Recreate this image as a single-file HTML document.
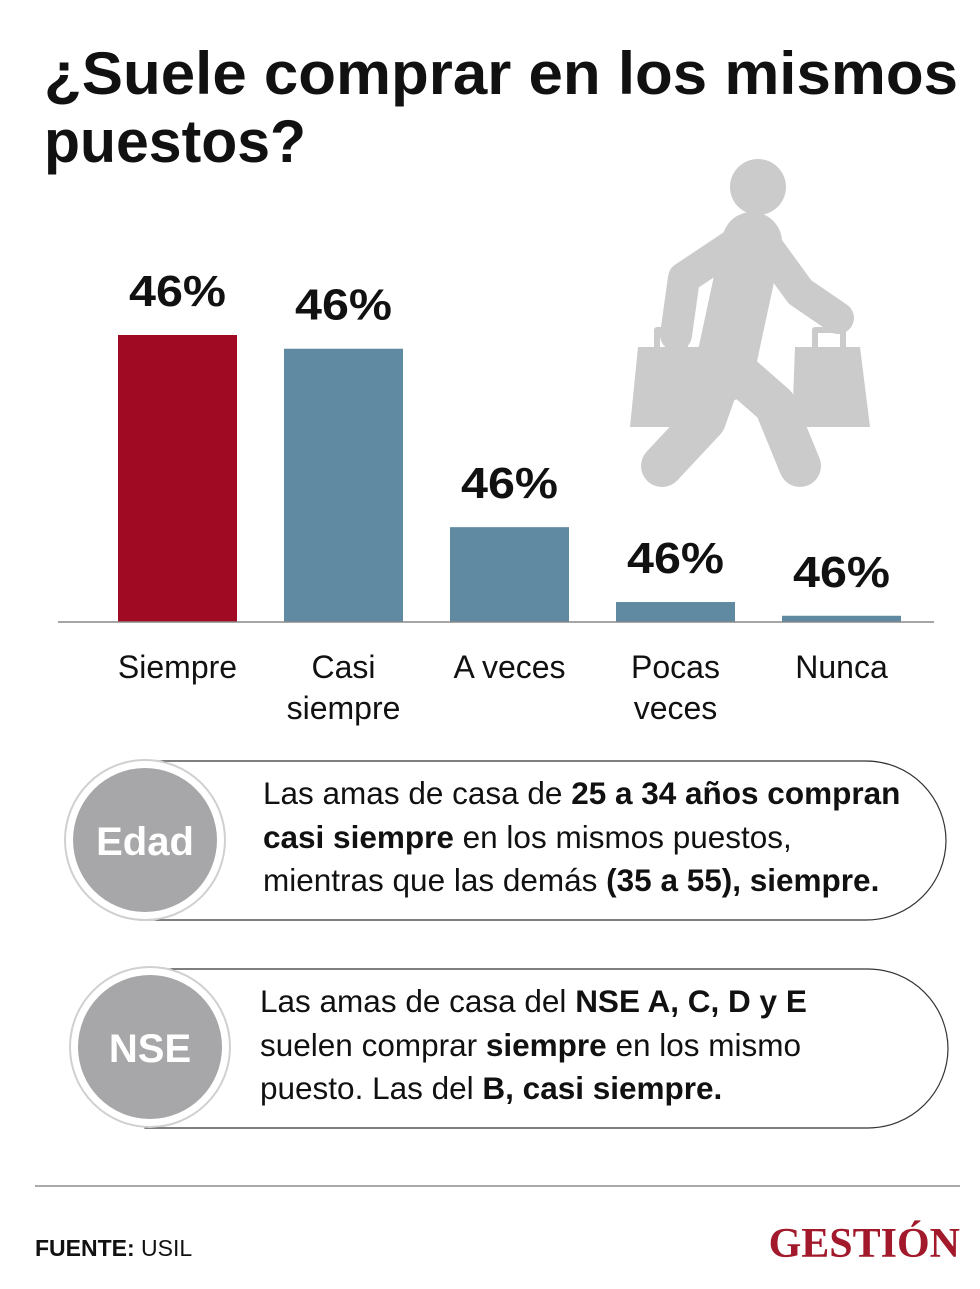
<!DOCTYPE html>
<html><head><meta charset="utf-8"><style>
body{margin:0;background:#fff;font-family:"Liberation Sans",sans-serif;}
#wrap{position:relative;width:980px;height:1289px;overflow:hidden;}
svg text{font-family:"Liberation Sans",sans-serif;}
</style></head><body>
<div id="wrap">
<svg width="980" height="1289" viewBox="0 0 980 1289">
<text x="44" y="94" font-size="60" font-weight="bold" fill="#111" textLength="914" lengthAdjust="spacingAndGlyphs">¿Suele comprar en los mismos</text>
<text x="44" y="162" font-size="60" font-weight="bold" fill="#111" textLength="262" lengthAdjust="spacingAndGlyphs">puestos?</text>
<g fill="none" stroke="#cbcbcb" stroke-linecap="round" stroke-linejoin="round">
<circle cx="758" cy="187" r="28" fill="#cbcbcb" stroke="none"/>
<path d="M752 242 L724 372" stroke-width="60"/>
<path d="M738 242 L684 278 L676 335" stroke-width="32"/>
<path d="M768 248 L800 292 L838 318" stroke-width="32"/>
<path d="M722 372 L705 420 L662 466" stroke-width="42"/>
<path d="M735 370 L775 405 L800 466" stroke-width="42"/>
<path d="M657 350 L657 330 L685 330 L685 350" stroke-width="6"/>
<path d="M815 350 L815 330 L843 330 L843 350" stroke-width="6"/>
<polygon points="638,347 700,347 703,427 630,427" fill="#cbcbcb" stroke="none"/>
<polygon points="795,347 860,347 870,427 792,427" fill="#cbcbcb" stroke="none"/>
</g>
<g id="chart"></g>
<line x1="58" y1="622" x2="934" y2="622" stroke="#888" stroke-width="1.5"/>

<g>
<path d="M140 761 H866 A80 80 0 0 1 946 841 A80 80 0 0 1 866 920 H140 Z" fill="#fff" stroke="#333" stroke-width="1.2"/>
<circle cx="145" cy="840" r="80" fill="#fff" stroke="#d0d0d0" stroke-width="2"/>
<circle cx="145" cy="840" r="72" fill="#a7a7a9"/>
<text x="145" y="855" font-size="40" font-weight="bold" fill="#fff" text-anchor="middle">Edad</text>
<text font-size="31.5" fill="#111">
<tspan x="263" y="804">Las amas de casa de <tspan font-weight="bold">25 a 34 años compran</tspan></tspan>
<tspan x="263" y="848"><tspan font-weight="bold">casi siempre</tspan> en los mismos puestos,</tspan>
<tspan x="263" y="891">mientras que las demás <tspan font-weight="bold">(35 a 55), siempre.</tspan></tspan>
</text></g>

<g>
<path d="M145 969 H868 A80 80 0 0 1 948 1049 A80 80 0 0 1 868 1128 H145 Z" fill="#fff" stroke="#333" stroke-width="1.2"/>
<circle cx="150" cy="1047" r="80" fill="#fff" stroke="#d0d0d0" stroke-width="2"/>
<circle cx="150" cy="1047" r="72" fill="#a7a7a9"/>
<text x="150" y="1062" font-size="40" font-weight="bold" fill="#fff" text-anchor="middle">NSE</text>
<text font-size="31.5" fill="#111">
<tspan x="260" y="1012">Las amas de casa del <tspan font-weight="bold">NSE A, C, D y E</tspan></tspan>
<tspan x="260" y="1056">suelen comprar <tspan font-weight="bold">siempre</tspan> en los mismo</tspan>
<tspan x="260" y="1099">puesto. Las del <tspan font-weight="bold">B, casi siempre.</tspan></tspan>
</text></g>

<line x1="35" y1="1186" x2="960" y2="1186" stroke="#555" stroke-width="1"/>
<text x="35" y="1256" font-size="23" fill="#111"><tspan font-weight="bold">FUENTE:</tspan> USIL</text>
<text x="960" y="1257" font-size="42" font-weight="bold" fill="#a1192b" text-anchor="end" style="font-family:'Liberation Serif',serif">GESTIÓN</text>
</svg>
</div>
<script>
const categories=[["Siempre"],["Casi","siempre"],["A veces"],["Pocas","veces"],["Nunca"]];
const values=[46,43.8,15.2,3.2,1];
const valueLabels=["46%","46%","46%","46%","46%"];
const colors=["#a00b23","#5f8aa1","#5f8aa1","#5f8aa1","#5f8aa1"];
const NS="http://www.w3.org/2000/svg";
const baseY=622,pxPerUnit=287/46,x0=118,step=166,bw=119;
const yScale=v=>baseY-v*pxPerUnit;
const xScale=i=>x0+i*step;
const g=document.getElementById('chart');
values.forEach((v,i)=>{
  const r=document.createElementNS(NS,'rect');
  r.setAttribute('x',xScale(i));r.setAttribute('y',yScale(v));
  r.setAttribute('width',bw);r.setAttribute('height',baseY-yScale(v));
  r.setAttribute('fill',colors[i]);
  
  
  g.appendChild(r);
  const t=document.createElementNS(NS,'text');
  t.setAttribute('x',xScale(i)+bw/2);t.setAttribute('y',yScale(v)-29);
  t.setAttribute('text-anchor','middle');t.setAttribute('font-size','44');t.setAttribute('font-weight','bold');t.setAttribute('fill','#111');
  t.setAttribute('textLength','97');t.setAttribute('lengthAdjust','spacingAndGlyphs');
  t.textContent=valueLabels[i];
  
  
  g.appendChild(t);
  categories[i].forEach((line,j)=>{
    const c=document.createElementNS(NS,'text');
    c.setAttribute('x',xScale(i)+bw/2);c.setAttribute('y',678+j*41);
    c.setAttribute('text-anchor','middle');c.setAttribute('font-size','32');c.setAttribute('fill','#111');
    c.textContent=line;
    
    
    g.appendChild(c);
  });
});
</script>
</body></html>
